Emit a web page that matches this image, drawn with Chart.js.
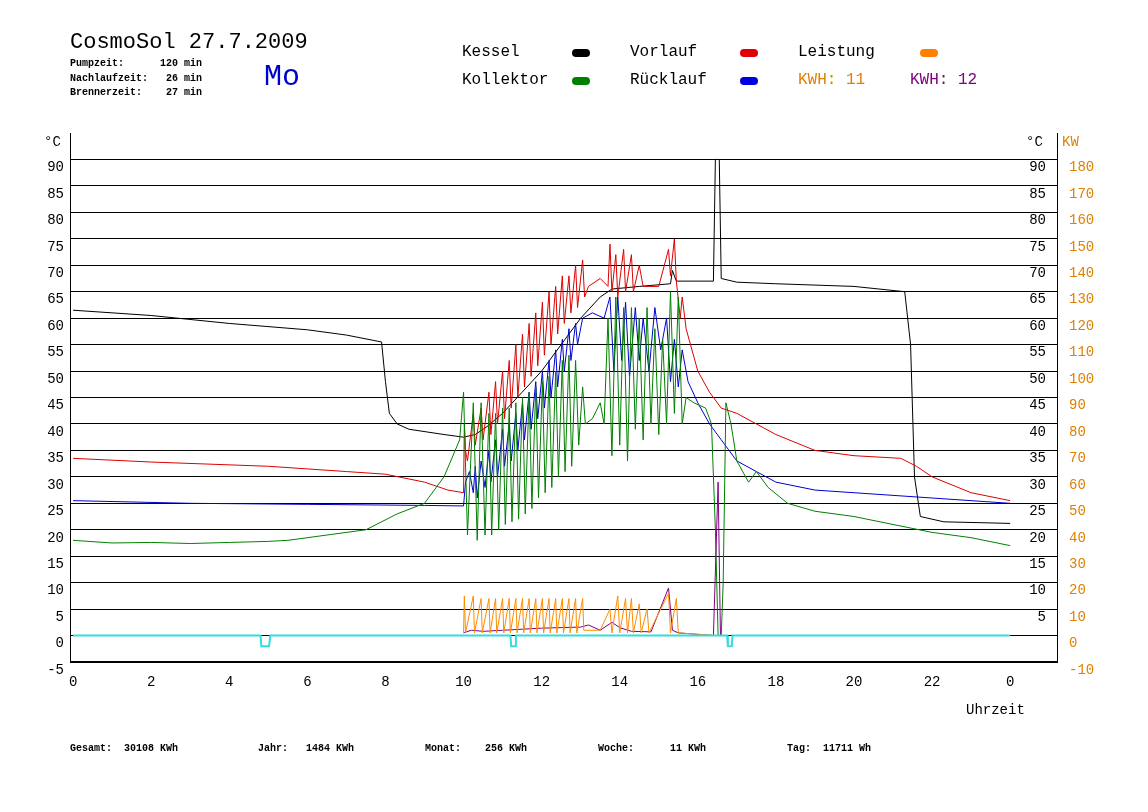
<!DOCTYPE html>
<html><head><meta charset="utf-8">
<script src="https://cdn.jsdelivr.net/npm/chart.js@4"></script>
<style>
body{margin:0;background:#fff;font-family:"Liberation Mono",monospace;}
#wrap{position:relative;width:1148px;height:812px;}
canvas{position:absolute;left:0;top:0;}
.t{position:absolute;white-space:pre;color:#000;}
.dot{position:absolute;width:18px;height:8px;border-radius:4px;}
</style></head><body>
<div id="wrap">
<canvas id="c" width="1148" height="812"></canvas>
<div class="t" style="left:70px;top:30px;font-size:22px;">CosmoSol 27.7.2009</div>
<div class="t" style="left:70px;top:57px;font-size:10px;line-height:14.5px;font-weight:bold;">Pumpzeit:      120 min
Nachlaufzeit:   26 min
Brennerzeit:    27 min</div>
<div class="t" style="left:264px;top:60px;font-size:30px;color:#0000cc;">Mo</div>
<div class="t" style="left:462px;top:43px;font-size:16px;">Kessel</div>
<div class="dot" style="left:572px;top:49px;background:#000"></div>
<div class="t" style="left:630px;top:43px;font-size:16px;">Vorlauf</div>
<div class="dot" style="left:740px;top:49px;background:#e00000"></div>
<div class="t" style="left:798px;top:43px;font-size:16px;">Leistung</div>
<div class="dot" style="left:920px;top:49px;background:#ff8000"></div>
<div class="t" style="left:462px;top:71px;font-size:16px;">Kollektor</div>
<div class="dot" style="left:572px;top:77px;background:#008000"></div>
<div class="t" style="left:630px;top:71px;font-size:16px;">Rücklauf</div>
<div class="dot" style="left:740px;top:77px;background:#0000e0"></div>
<div class="t" style="left:798px;top:71px;font-size:16px;color:#e08000;">KWH: 11</div>
<div class="t" style="left:910px;top:71px;font-size:16px;color:#800080;">KWH: 12</div>
<div class="t" style="left:44px;top:134px;font-size:14px;">°C</div>
<div class="t" style="left:1026px;top:134px;font-size:14px;">°C</div>
<div class="t" style="left:1062px;top:134px;font-size:14px;color:#e08000;">KW</div>
<div class="t" style="left:966px;top:702px;font-size:14px;">Uhrzeit</div>
<div class="t" style="left:70px;top:743px;font-size:10px;font-weight:bold;">Gesamt:  30108 KWh</div>
<div class="t" style="left:258px;top:743px;font-size:10px;font-weight:bold;">Jahr:   1484 KWh</div>
<div class="t" style="left:425px;top:743px;font-size:10px;font-weight:bold;">Monat:    256 KWh</div>
<div class="t" style="left:598px;top:743px;font-size:10px;font-weight:bold;">Woche:      11 KWh</div>
<div class="t" style="left:787px;top:743px;font-size:10px;font-weight:bold;">Tag:  11711 Wh</div>
</div>
<script>
const hours=[0,2,4,6,8,10,12,14,16,18,20,22,24];
const hourLabels=['0','2','4','6','8','10','12','14','16','18','20','22','0'];
const kessel=[[0,61.5],[2,60.5],[4,59],[6,57.8],[7,56.8],[7.9,55.5],[8.0,48],[8.1,42],[8.3,40],[8.6,39],[9.5,38],[10,37.5],[10.3,38],[10.6,39.5],[11,42],[11.5,46],[12,50],[12.5,55],[13,60],[13.5,64],[13.8,65.5],[14.5,66],[15.3,66.5],[15.35,69],[15.45,67],[16.4,67],[16.45,90],[16.55,90],[16.6,67.5],[17,66.8],[18,66.5],[20,66],[21.3,65],[21.45,55],[21.55,30],[21.7,22.5],[22.3,21.5],[24,21.2]];
const vorlauf=[[0,33.5],[2,32.8],[5,32],[7,31],[8,30.5],[9,29],[9.6,27.5],[10,27],[10.02,40],[10.05,35],[10.1,33],[10.25,42],[10.3,36],[10.45,43],[10.5,37],[10.65,46],[10.7,38],[10.82,48],[10.87,40],[11,50],[11.05,41],[11.17,52],[11.22,43],[11.34,55],[11.39,45],[11.51,57],[11.56,47],[11.68,59],[11.73,49],[11.85,61],[11.9,51],[12.02,63],[12.07,53],[12.19,65],[12.24,55],[12.36,66],[12.41,57],[12.53,68],[12.58,59],[12.7,68],[12.75,61],[12.87,70],[12.92,62],[13.05,71],[13.1,64],[13.2,66],[13.5,67.5],[13.7,66],[13.75,74],[13.8,65],[13.9,72],[13.95,64],[14.1,73],[14.15,65],[14.3,72],[14.35,65],[14.5,70],[14.6,66],[15.0,66],[15.25,73],[15.3,68],[15.4,75],[15.45,67],[15.55,60],[15.6,64],[15.7,58],[16.0,50],[16.3,46],[16.6,43],[17.0,42],[17.5,40],[18,38],[19,35],[20,34],[21.2,33.5],[21.6,32],[22,30],[23,27],[24,25.5]];
const ruecklauf=[[0,25.5],[3,25],[6,24.8],[9,24.6],[10,24.5],[10.05,29],[10.15,31],[10.25,27],[10.3,32],[10.35,26],[10.45,33],[10.55,28],[10.65,35],[10.7,29],[10.82,37],[10.87,30],[11,39],[11.05,32],[11.17,40],[11.22,33],[11.34,42],[11.39,35],[11.51,44],[11.56,37],[11.68,46],[11.73,39],[11.85,48],[11.9,41],[12.02,50],[12.07,43],[12.19,52],[12.24,45],[12.36,54],[12.41,47],[12.53,56],[12.58,50],[12.7,58],[12.75,52],[12.87,59],[12.92,55],[13.05,60],[13.3,61],[13.6,60],[13.75,64],[13.85,50],[13.95,64],[14.05,52],[14.15,63],[14.25,49],[14.4,62],[14.5,52],[14.6,60],[14.75,50],[14.9,62],[15.05,54],[15.2,60],[15.3,48],[15.4,56],[15.5,47],[15.6,54],[15.75,48],[16.0,44],[16.3,40],[16.6,37],[17,33],[17.5,31],[18,29],[19,27.5],[20,27],[22,26],[24,25]];
const kollektor=[[0,18],[1,17.5],[2,17.6],[3,17.4],[4,17.6],[5,17.8],[5.5,18],[6.5,19],[7.5,20],[8.3,23],[9,25],[9.5,30],[9.9,37],[10.0,46],[10.1,19],[10.25,44],[10.35,18],[10.45,44],[10.55,19],[10.65,42],[10.72,19],[10.82,42],[10.9,20],[11.0,43],[11.07,21],[11.17,43],[11.24,21.5],[11.34,44],[11.41,22],[11.51,45],[11.58,23],[11.68,46],[11.75,24],[11.85,47],[11.92,26],[12.02,48],[12.09,27],[12.19,49],[12.26,28],[12.36,50],[12.43,30],[12.53,52],[12.6,31],[12.7,53],[12.77,32],[12.87,52],[12.95,36],[13.05,47],[13.12,40],[13.3,41],[13.5,44],[13.6,40],[13.7,60],[13.8,34],[13.9,64],[14.0,36],[14.1,62],[14.2,33],[14.3,62],[14.4,39],[14.5,60],[14.6,37],[14.7,62],[14.8,40],[14.9,58],[15.0,38],[15.1,56],[15.2,40],[15.3,65],[15.4,42],[15.5,64],[15.6,40],[15.7,45],[15.9,44],[16.2,43],[16.35,40],[16.45,20],[16.52,0],[16.6,0],[16.65,10],[16.72,44],[16.85,40],[17.0,33],[17.3,29],[17.5,31],[17.8,28],[18.3,25],[19,23.5],[20,22.5],[21,21],[22,19.5],[23,18.5],[24,17]];
const leistung=[[10,0.5],[10.02,7.5],[10.05,0.5],[10.25,7.5],[10.28,0.5],[10.45,7],[10.48,0.5],[10.65,7],[10.68,0.5],[10.82,7],[10.85,0.5],[11,7],[11.03,0.5],[11.17,7],[11.2,0.5],[11.34,7],[11.37,0.5],[11.51,7],[11.54,0.5],[11.68,7],[11.71,0.5],[11.85,7],[11.88,0.5],[12.02,7],[12.05,0.5],[12.19,7],[12.22,0.5],[12.36,7],[12.39,0.5],[12.53,7],[12.56,0.5],[12.7,7],[12.73,0.5],[12.87,7],[12.9,0.5],[13.05,7],[13.08,1],[13.5,1],[13.75,5],[13.8,0.5],[13.95,7.5],[14.0,0.5],[14.15,7],[14.2,0.5],[14.3,7],[14.35,0.5],[14.5,6],[14.55,0.5],[14.7,5],[14.75,0.5],[15.25,8],[15.3,0.5],[15.45,7],[15.5,0.5],[16.5,0]];
const kwh12=[[10,0.5],[10.2,1],[10.5,0.8],[11,1],[11.5,1.2],[12,1.4],[12.5,1.5],[13,1.6],[13.2,2],[13.5,1],[13.8,2.5],[14,1.5],[14.3,0.8],[14.8,0.7],[15.25,9],[15.35,1],[15.5,0.5],[16.4,0],[16.52,29],[16.58,0],[16.7,0]];
const pumpe=[[0,0],[4.8,0],[4.82,-2],[5.02,-2],[5.05,0],[11.2,0],[11.22,-2],[11.32,-2],[11.34,0],[16.75,0],[16.77,-2],[16.87,-2],[16.89,0],[24,0]];

const toXY=a=>a.map(p=>({x:p[0],y:p[1]}));
const ds=(d,c,w)=>({data:toXY(d),borderColor:c,borderWidth:w||1,pointRadius:0,showLine:true,tension:0,yAxisID:'y'});
const shift=v=>['',String(v)];
const tf={family:'Liberation Mono',size:14,lineHeight:1.15};
new Chart(document.getElementById('c'),{
 type:'scatter',
 data:{datasets:[ds(pumpe,'#33dddd',2),ds(leistung,'#ff8c00'),ds(kwh12,'#800080'),ds(kollektor,'#008000'),ds(ruecklauf,'#0000d0'),ds(vorlauf,'#dd0000'),ds(kessel,'#000000')]},
 options:{responsive:false,animation:false,layout:{padding:{top:133,right:0,left:0,bottom:0}},
  plugins:{legend:{display:false},tooltip:{enabled:false}},
  scales:{
   x:{type:'linear',min:-0.08,max:25.2,afterFit:s=>{s.height=150;},
     afterBuildTicks:s=>{s.ticks=hours.map(v=>({value:v}));},
     grid:{display:false},border:{color:'#000',width:1},
     ticks:{autoSkip:false,maxRotation:0,color:'#000',font:{family:'Liberation Mono',size:14},padding:4,callback:(v)=>hourLabels[hours.indexOf(v)]}},
   y:{position:'left',min:-5,max:95,afterFit:s=>{s.width=70;},
     afterBuildTicks:s=>{s.ticks=[];for(let v=-5;v<=90;v+=5)s.ticks.push({value:v});},
     grid:{color:'#000',lineWidth:c=>c.tick&&c.tick.value===-5?2:1,drawTicks:false},border:{color:'#000'},
     ticks:{autoSkip:false,color:'#000',font:tf,padding:6,callback:v=>shift(v)}},
   yR:{position:'right',min:-5,max:95,afterFit:s=>{s.width=0;},
     afterBuildTicks:s=>{s.ticks=[];for(let v=5;v<=90;v+=5)s.ticks.push({value:v});},
     grid:{display:false},border:{color:'#000'},
     ticks:{autoSkip:false,mirror:true,color:'#000',font:tf,padding:-11,callback:v=>shift(v)}},
   yKW:{position:'right',min:-10,max:190,afterFit:s=>{s.width=91;},
     afterBuildTicks:s=>{s.ticks=[];for(let v=-10;v<=180;v+=10)s.ticks.push({value:v});},
     grid:{display:false},border:{display:false},
     ticks:{autoSkip:false,color:'#e08000',font:tf,padding:4,callback:v=>shift(v)}}
  }}
});
</script></body></html>
